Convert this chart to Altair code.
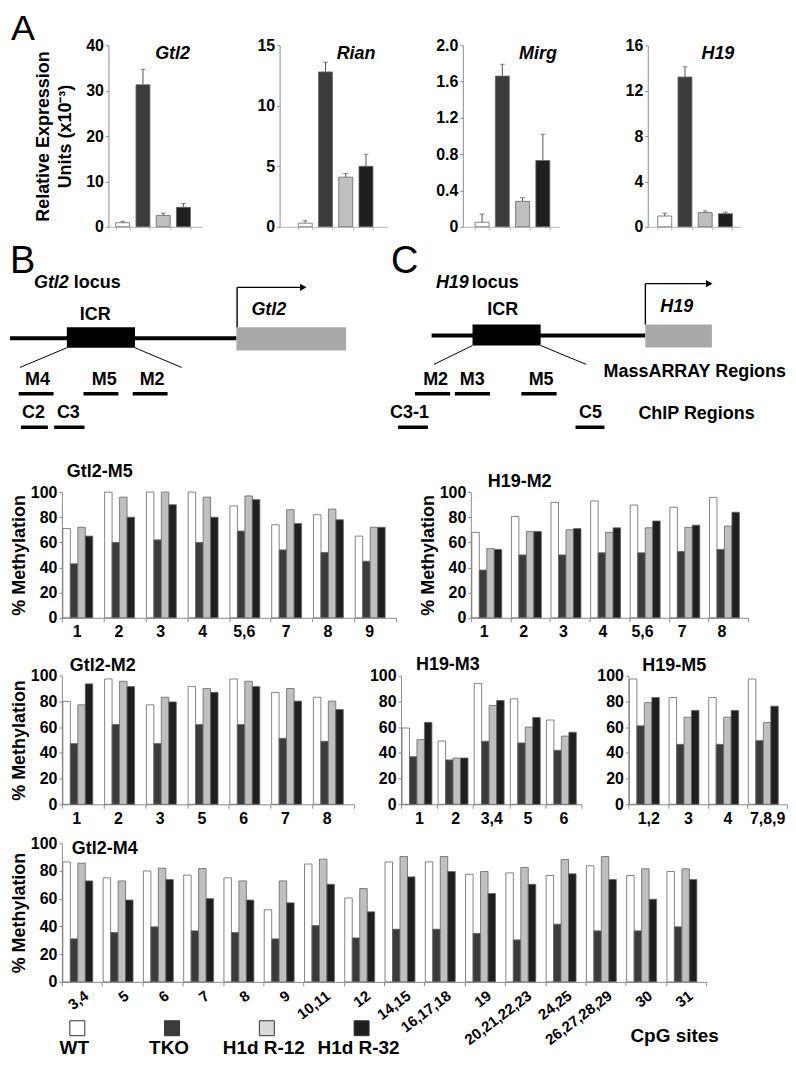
import altair as alt
import pandas as pd

FONT = "Liberation Sans"
SERIES = ["WT", "TKO", "H1d R-12", "H1d R-32"]
FILLS = ["#ffffff", "#3b3b3b", "#bfbfbf", "#1f1f1f"]
LEGEND_FILLS = ["#ffffff", "#3b3b3b", "#dadada", "#1f1f1f"]
AXIS_GRAY = "#8c8c8c"

# ---------------- Panel A: relative expression ----------------
gtl2_expr = [0.9, 31.3, 2.5, 4.3]
gtl2_err = [0.3, 3.4, 0.5, 0.8]
gtl2_ticks = [0, 10, 20, 30, 40]
rian_expr = [0.3, 12.8, 4.1, 5.0]
rian_err = [0.2, 0.8, 0.3, 1.0]
rian_ticks = [0, 5, 10, 15]
mirg_expr = [0.05, 1.66, 0.28, 0.73]
mirg_err = [0.09, 0.13, 0.04, 0.29]
mirg_ticks = [0, 0.4, 0.8, 1.2, 1.6, 2.0]
h19_expr = [0.95, 13.2, 1.25, 1.15]
h19_err = [0.25, 0.9, 0.15, 0.15]
h19_ticks = [0, 4, 8, 12, 16]

# ---------------- Methylation data ----------------
gtl2_m5_sites = ["1", "2", "3", "4", "5,6", "7", "8", "9"]
gtl2_m5_wt = [71, 100, 100, 100, 89, 74, 82, 65]
gtl2_m5_tko = [43, 60, 62, 60, 69, 54, 52, 45]
gtl2_m5_r12 = [72, 96, 100, 96, 97, 86, 86.5, 72]
gtl2_m5_r32 = [65, 80, 90, 80, 94, 75, 78, 72]

h19_m2_sites = ["1", "2", "3", "4", "5,6", "7", "8"]
h19_m2_wt = [68, 80.6, 91.8, 93, 89.7, 88, 95.8]
h19_m2_tko = [38, 50, 50, 51.7, 51.7, 52.8, 54.4]
h19_m2_r12 = [55, 68.7, 70, 68, 71.6, 72, 73]
h19_m2_r32 = [54.4, 68.7, 71, 71.6, 77, 73.7, 84]

gtl2_m2_sites = ["1", "2", "3", "5", "6", "7", "8"]
gtl2_m2_wt = [80, 97.4, 77.3, 91.5, 97.4, 87, 83.2]
gtl2_m2_tko = [47.2, 62, 47.2, 62, 62, 51.3, 49]
gtl2_m2_r12 = [77.3, 95.6, 83.2, 90, 95.6, 90, 80.2]
gtl2_m2_r32 = [93.6, 91.5, 79.6, 87, 91.5, 80.2, 73.7]

h19_m3_sites = ["1", "2", "3,4", "5", "6"]
h19_m3_wt = [59.3, 49.2, 94, 82, 65.5]
h19_m3_tko = [37, 34.5, 49, 47.7, 42]
h19_m3_r12 = [50.3, 36, 76.8, 60, 53]
h19_m3_r32 = [63.7, 36, 80.7, 67.5, 56]

h19_m5_sites = ["1,2", "3", "4", "7,8,9"]
h19_m5_wt = [97.4, 83, 83, 97.4]
h19_m5_tko = [61, 46.6, 46.6, 49.5]
h19_m5_r12 = [79, 67.7, 67.7, 63.5]
h19_m5_r32 = [83, 73, 73, 76.3]

gtl2_m4_sites = ["3,4", "5", "6", "7", "8", "9", "10,11", "12", "14,15",
                 "16,17,18", "19", "20,21,22,23", "24,25", "26,27,28,29", "30", "31"]
gtl2_m4_wt = [86.5, 75, 80, 77, 75, 52, 85, 60.5, 86.5, 86.5, 77.6, 78.6, 76.7, 83.7, 76.7, 79.6]
gtl2_m4_tko = [31, 35.6, 39.7, 36.8, 35.6, 31, 40.6, 31.7, 38, 38, 35, 30.3, 41.6, 36.8, 36.8, 39.7]
gtl2_m4_r12 = [85.6, 72.8, 82, 81.7, 72.8, 72.8, 88.5, 67.3, 90.4, 90.4, 79.6, 82.5, 88.2, 90.4, 81.5, 81.5]
gtl2_m4_r32 = [72.8, 59, 73.8, 60, 59, 57, 70.4, 50.5, 75.7, 79.6, 63.7, 70.4, 77.9, 73.8, 59.6, 73.8]

# ---------------- Locus diagram (page coordinates) ----------------
backbone_segments = [(8, 235, 337.7), (430.7, 645, 335)]
icr_boxes = [(65, 133.3, 326.7, 347.3), (471.7, 540, 324, 345)]
gene_boxes = [(235, 345, 326.7, 350), (645, 711.7, 324, 347)]
diagonals = [(65, 347.3, 18, 367), (133.3, 347.3, 180, 367),
             (471.7, 345, 433, 364), (540, 345, 585.7, 364)]
arrow_segments = [(235.7, 327, 235.7, 286.7), (235.7, 286.7, 299, 286.7),
                  (645, 324, 645, 283), (645, 283, 706, 283)]
arrow_heads = [(302, 286.7), (709, 283)]
region_bars = [(16.7, 51.7, 393.3), (81.7, 116.7, 393.3), (131, 166, 393.3),
               (19, 46, 427), (52.3, 82.7, 427),
               (414, 449.3, 393.3), (454, 489.3, 393.3), (520.7, 556, 393.3),
               (397, 427, 427), (575, 604, 427)]
center_labels = ["ICR", "ICR", "M4", "M5", "M2", "C2", "C3", "M2", "M3", "M5", "C3-1", "C5"]
center_x = [93.5, 502, 35.5, 102.5, 150.5, 31.5, 66.5, 434.7, 471.5, 540.5, 408.5, 590]
center_y = [314, 309, 380, 380, 380, 413, 413, 380, 380, 380, 413, 413]
left_labels = ["locus", "locus", "ChIP Regions"]
left_x = [72, 471, 638]
left_y = [282, 282, 413.5]
right_labels = ["MassARRAY Regions"]
right_x = [786]
right_y = [371.5]
italic_labels = ["Gtl2", "H19", "Gtl2", "H19"]
italic_x = [32, 435, 250, 660]
italic_y = [282, 282, 309, 306]
panel_letters = ["B", "C"]
letter_x = [8, 390]
letter_y = [261, 261]

X0 = 60      # common origin (page x) of the first plot in every row
LEFT = 8 - X0  # left edge of the page, relative to that origin


def one():
    return pd.DataFrame({"a": [0]})


def anchor(left, top, bottom):
    return alt.Chart(one()).mark_rule(opacity=0).encode(
        x=alt.value(left), y=alt.value(top), y2=alt.value(bottom))


def text_at(txt, x, y, size=18, weight="bold", style="normal", align="left", baseline="middle"):
    return alt.Chart(one()).mark_text(
        text=txt, font=FONT, fontSize=size, fontWeight=weight, fontStyle=style,
        align=align, baseline=baseline, color="black").encode(x=alt.value(x), y=alt.value(y))


# ---------------- Panel A charts ----------------
def expr_panel(name, vals, errs, ticks, origin, axis_x, end_x, left_off, title_x,
               fmt=None, first=False):
    df = pd.DataFrame({"series": SERIES, "value": vals,
                       "top": [v + e for v, e in zip(vals, errs)]})
    width = end_x - origin
    a = axis_x - origin
    L = width - a
    step, bw = 20.3, 14.0
    pi = 1 - bw / step
    po = (L / step - 4 + pi) / 2
    al = left_off / (2 * po * step)
    xsc = alt.Scale(domain=SERIES, range=[a, width], paddingInner=pi, paddingOuter=po, align=al)
    xax = alt.Axis(title=None, labels=False, tickBand="extent", tickSize=3,
                   domainColor="#b5b5b5", tickColor="#b5b5b5")
    ysc = alt.Scale(domain=[0, ticks[-1]], nice=False)
    yargs = dict(values=ticks, tickSize=3, labelPadding=2, labelFontSize=16, offset=-a)
    if fmt:
        yargs["labelExpr"] = fmt
    if first:
        yargs.update(title=["Relative Expression", "Units (x10\u207b\u00b3)"],
                     titleFontSize=18, titlePadding=11, titleLineHeight=22)
    else:
        yargs["title"] = None
    yax = alt.Axis(**yargs)
    X = alt.X("series:N", sort=SERIES, scale=xsc, axis=xax)
    base = alt.Chart(df)
    err = base.mark_rule(color="#555555", strokeWidth=1).encode(
        x=X, y=alt.Y("value:Q", scale=ysc, axis=yax), y2="top:Q")
    cap = base.mark_tick(color="#555555", thickness=1, size=5).encode(
        x=X, y=alt.Y("top:Q", scale=ysc, axis=yax))
    bars = base.mark_bar(stroke="#666666", strokeWidth=0.8).encode(
        x=X, y=alt.Y("value:Q", scale=ysc, axis=yax),
        fill=alt.Fill("series:N", scale=alt.Scale(domain=SERIES, range=FILLS), legend=None))
    layers = [err, bars, cap,
              text_at(name, title_x - origin, 9, size=18, style="italic", align="center")]
    if first:
        layers.append(text_at("A", LEFT + 1, -33, size=36, weight="normal", baseline="top"))
        layers.append(anchor(LEFT, -36, 196))
    return alt.layer(*layers).properties(width=width, height=182)


MIRG_FMT = "datum.value == 0 ? '0' : format(datum.value, '.1f')"
GAP_A = 10
o1 = X0
o2 = 200 + GAP_A
o3 = 386.7 + GAP_A
o4 = 558.3 + GAP_A
rowA = alt.hconcat(
    expr_panel("Gtl2", gtl2_expr, gtl2_err, gtl2_ticks, o1, 106.7, 200, 7.3, 171, first=True),
    expr_panel("Rian", rian_expr, rian_err, rian_ticks, o2, 278.3, 386.7, 18.7, 355),
    expr_panel("Mirg", mirg_expr, mirg_err, mirg_ticks, o3, 461.7, 558.3, 12.3, 537, fmt=MIRG_FMT),
    expr_panel("H19", h19_expr, h19_err, h19_ticks, o4, 646.7, 740, 10, 717),
    spacing=GAP_A, bounds="flush")


# ---------------- Panels B, C: locus diagrams ----------------
dxs = alt.Scale(domain=[X0, 788], nice=False, zero=False)
dys = alt.Scale(domain=[240, 440], nice=False, zero=False, reverse=True)


def DX(f):
    return alt.X(f + ":Q", scale=dxs, axis=None)


def DY(f):
    return alt.Y(f + ":Q", scale=dys, axis=None)


bb = pd.DataFrame(backbone_segments, columns=["x", "x2", "y"])
icr = pd.DataFrame(icr_boxes, columns=["x", "x2", "y", "y2"])
gene = pd.DataFrame(gene_boxes, columns=["x", "x2", "y", "y2"])
dg = pd.DataFrame(diagonals, columns=["x", "y", "x2", "y2"])
ar = pd.DataFrame(arrow_segments, columns=["x", "y", "x2", "y2"])
ah = pd.DataFrame(arrow_heads, columns=["x", "y"])
rg = pd.DataFrame(region_bars, columns=["x", "x2", "y"])


def diag_text(labels, xs, ys, size=18, weight="bold", style="normal", align="left"):
    df = pd.DataFrame({"x": xs, "y": ys, "t": labels})
    return alt.Chart(df).mark_text(font=FONT, fontSize=size, fontWeight=weight,
                                   fontStyle=style, align=align, baseline="middle",
                                   color="black").encode(x=DX("x"), y=DY("y"), text="t:N")


diag_anchor = alt.Chart(pd.DataFrame({"x": [8], "y": [240], "y2": [440]})).mark_rule(
    opacity=0).encode(x=DX("x"), y=DY("y"), y2="y2:Q")

diagram = alt.layer(
    diag_anchor,
    alt.Chart(bb).mark_rule(color="black", strokeWidth=4).encode(x=DX("x"), x2="x2:Q", y=DY("y")),
    alt.Chart(dg).mark_rule(color="black", strokeWidth=1).encode(
        x=DX("x"), y=DY("y"), x2="x2:Q", y2="y2:Q"),
    alt.Chart(ar).mark_rule(color="black", strokeWidth=1.4).encode(
        x=DX("x"), y=DY("y"), x2="x2:Q", y2="y2:Q"),
    alt.Chart(ah).mark_point(shape="triangle-right", filled=True, size=55, color="black",
                             opacity=1).encode(x=DX("x"), y=DY("y")),
    alt.Chart(icr).mark_rect(color="black").encode(x=DX("x"), x2="x2:Q", y=DY("y"), y2="y2:Q"),
    alt.Chart(gene).mark_rect(color="#a9a9a9").encode(x=DX("x"), x2="x2:Q", y=DY("y"), y2="y2:Q"),
    alt.Chart(rg).mark_rule(color="black", strokeWidth=3.5).encode(x=DX("x"), x2="x2:Q", y=DY("y")),
    diag_text(center_labels, center_x, center_y, align="center"),
    diag_text(left_labels, left_x, left_y),
    diag_text(right_labels, right_x, right_y, align="right"),
    diag_text(italic_labels, italic_x, italic_y, style="italic"),
    diag_text(panel_letters, letter_x, letter_y, size=38, weight="normal"),
).properties(width=788 - X0, height=200)


# ---------------- Methylation charts ----------------
def meth(title, sites, wt, tko, r12, r32, width, height, left_pad, bw, label_off,
         ytitle, title_xy, angle=0, extra=(), independent=False):
    rows = []
    for s_name, vals in zip(SERIES, [wt, tko, r12, r32]):
        for site, v in zip(sites, vals):
            rows.append({"site": site, "series": s_name, "value": v})
    df = pd.DataFrame(rows)
    step = width / len(sites)
    pad = step - 4 * bw
    po = pad / (2 * bw)
    al = left_pad / pad
    xargs = dict(title=None, tickBand="extent", labelOffset=label_off, labelAngle=angle,
                 labelFontSize=16 if angle == 0 else 15, tickSize=4, labelPadding=2)
    if angle:
        xargs["labelAlign"] = "right"
    xax = alt.Axis(**xargs)
    yax = alt.Axis(values=[0, 20, 40, 60, 80, 100],
                   title="% Methylation" if ytitle else None,
                   titleFontSize=18, titlePadding=2, tickSize=3, labelPadding=2,
                   labelFontSize=16)
    bars = alt.Chart(df).mark_bar(stroke="#666666", strokeWidth=0.8).encode(
        x=alt.X("site:N", sort=sites, scale=alt.Scale(domain=sites, paddingInner=0,
                                                       paddingOuter=0), axis=xax),
        xOffset=alt.XOffset("series:N", sort=SERIES,
                            scale=alt.Scale(domain=SERIES, paddingInner=0,
                                            paddingOuter=po, align=al)),
        y=alt.Y("value:Q", scale=alt.Scale(domain=[0, 100], nice=False), axis=yax),
        fill=alt.Fill("series:N", scale=alt.Scale(domain=SERIES, range=FILLS), legend=None))
    layers = [bars, text_at(title, title_xy[0], title_xy[1])] + list(extra)
    ch = alt.layer(*layers)
    if independent:
        ch = ch.resolve_scale(x="independent")
    return ch.properties(width=width, height=height)


row3 = alt.hconcat(
    meth("Gtl2-M5", gtl2_m5_sites, gtl2_m5_wt, gtl2_m5_tko, gtl2_m5_r12, gtl2_m5_r32,
         335, 126, 1, 7.5, -6, True, (5, -20), extra=[anchor(LEFT, -52, 148)]),
    meth("H19-M2", h19_m2_sites, h19_m2_wt, h19_m2_tko, h19_m2_r12, h19_m2_r32,
         278, 126, 9, 7.5, -7, True, (17, -10)),
    spacing=75, bounds="flush")

row4 = alt.hconcat(
    meth("Gtl2-M2", gtl2_m2_sites, gtl2_m2_wt, gtl2_m2_tko, gtl2_m2_r12, gtl2_m2_r32,
         293, 129, 1.3, 7.7, -6.5, True, (8, -10), extra=[anchor(LEFT, -36, 160)]),
    meth("H19-M3", h19_m3_sites, h19_m3_wt, h19_m3_tko, h19_m3_r12, h19_m3_r32,
         181, 129, 4.5, 6.9, 0, False, (15, -11)),
    meth("H19-M5", h19_m5_sites, h19_m5_wt, h19_m5_tko, h19_m5_r12, h19_m5_r32,
         159, 129, 4.3, 7.75, 0, False, (14, -10)),
    spacing=47, bounds="flush")

# legend (inside the Gtl2-M4 panel)
legend_df = pd.DataFrame({"series": SERIES, "fill": LEGEND_FILLS})
legend_x = alt.X("series:N", sort=SERIES,
                 scale=alt.Scale(type="point", domain=SERIES, range=[15.5, 300.5], padding=0),
                 axis=None)
legend_squares = alt.Chart(legend_df).mark_square(
    size=225, stroke="#333333", strokeWidth=1, opacity=1, filled=True).encode(
    x=legend_x, y=alt.value(185.5), fill=alt.Fill("fill:N", scale=None))
legend_labels = alt.Chart(legend_df).mark_text(
    font=FONT, fontSize=19, fontWeight="bold", align="center", baseline="middle",
    dx=-3, color="black").encode(x=legend_x, y=alt.value(205), text="series:N")

row5 = meth("Gtl2-M4", gtl2_m4_sites, gtl2_m4_wt, gtl2_m4_tko, gtl2_m4_r12, gtl2_m4_r32,
            646, 139, 3.4, 7.6, 0, True, (10, 5.5), angle=-37,
            extra=[legend_squares, legend_labels,
                   text_at("CpG sites", 570, 193, size=19),
                   anchor(LEFT, -8, 216)],
            independent=True)

chart = alt.vconcat(rowA, diagram, row3, row4, row5, spacing=0).properties(
    padding=0
).configure_view(stroke=None).configure_axis(
    grid=False, labelFont=FONT, titleFont=FONT, labelFontWeight="bold",
    titleFontWeight="bold", labelColor="#000000", titleColor="#000000",
    domainColor=AXIS_GRAY, tickColor=AXIS_GRAY, domainWidth=1, tickWidth=1
)

chart.save("out.html", embed_options={"renderer": "svg", "actions": False})
